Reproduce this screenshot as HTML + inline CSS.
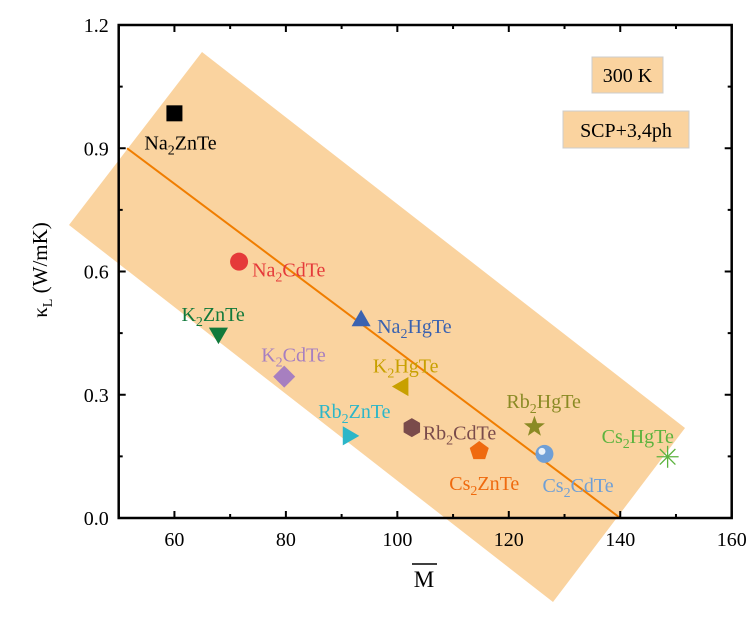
<!DOCTYPE html>
<html><head><meta charset="utf-8"><style>
body{margin:0;background:#fff}
svg, svg text, svg tspan{font-family:"Liberation Serif","Times New Roman","DejaVu Serif","Noto Serif CJK SC",serif !important}
</style></head><body>
<svg width="751" height="612" viewBox="0 0 751 612">
<g id="plot"></g>
</svg>
<script>
const categories=["Na2ZnTe","Na2CdTe","K2ZnTe","K2CdTe","Rb2ZnTe","Na2HgTe","K2HgTe","Rb2CdTe","Cs2ZnTe","Rb2HgTe","Cs2CdTe","Cs2HgTe"];
const massValues=[60,71.6,67.9,79.7,91.2,93.5,101,102.6,114.7,124.6,126.4,148.5];
const kappaValues=[0.985,0.624,0.45,0.344,0.2,0.48,0.32,0.22,0.163,0.222,0.156,0.149];
const xTicks=[60,80,100,120,140,160];
const yTicks=[0.0,0.3,0.6,0.9,1.2];
const fitLine=[[51.5,0.9],[140,0]];
const NS="http://www.w3.org/2000/svg";
const L=118.7,R=731.7,T=25,B=518,X0=50,X1=160,Y0=0,Y1=1.2;
const sx=v=>L+(v-X0)/(X1-X0)*(R-L);
const sy=v=>B-(v-Y0)/(Y1-Y0)*(B-T);
const g=document.getElementById('plot');
function mk(t,a,p){const e=document.createElementNS(NS,t);for(const k in a)e.setAttribute(k,a[k]);(p||g).appendChild(e);return e;}
const band=mk('polygon',{points:"69,225 202,52 685,428 553,602",fill:"#fad39f"});


const fl=mk('line',{x1:sx(fitLine[0][0]),y1:sy(fitLine[0][1]),x2:sx(fitLine[1][0]),y2:sy(fitLine[1][1]),stroke:"#f07d00","stroke-width":2});


const fr=mk('rect',{x:L,y:T,width:R-L,height:B-T,fill:"none",stroke:"#000","stroke-width":2.5});


for(let v=50;v<=160;v+=10){const x=sx(v);const len=(v%20===0)?7:4;
 mk('line',{x1:x,y1:B,x2:x,y2:B-len,stroke:"#000","stroke-width":2});
 mk('line',{x1:x,y1:T,x2:x,y2:T+len,stroke:"#000","stroke-width":2});}
for(let i=0;i<=8;i++){const v=i*0.15;const y=sy(v);const len=(i%2===0)?7:4;
 mk('line',{x1:L,y1:y,x2:L+len,y2:y,stroke:"#000","stroke-width":2});
 mk('line',{x1:R,y1:y,x2:R-len,y2:y,stroke:"#000","stroke-width":2});}
xTicks.forEach(v=>{const t=mk('text',{x:sx(v),y:B+28,"text-anchor":"middle","font-size":20});t.textContent=v;
 
 });
yTicks.forEach(v=>{const t=mk('text',{x:L-10,y:sy(v)+7,"text-anchor":"end","font-size":20});t.textContent=v.toFixed(1);
 
 });
const colors=["#000","#e53a3a","#11793b","#a77fc0","#2cb6c8","#3a62b0","#c8a000","#7a4b4b","#ef6a0e","#8a8a24","#6f9fd6","#5cb33e"];
const shapes=["sq","ci","tdown","dia","tright","tup","tleft","hex","pent","star","sphere","ast"];
const labelOff=[[-30,30],[13,9],[-37,-18],[-23,-21],[-30,-24],[16,6],[-30,-20],[11,6],[-30,33],[-28,-25],[-2,32],[-66,-20]];
function poly(n,r,rot){let p=[];for(let i=0;i<n;i++){const a=rot+i*2*Math.PI/n;p.push((r*Math.cos(a)).toFixed(2)+","+(r*Math.sin(a)).toFixed(2));}return p.join(" ");}
categories.forEach((c,i)=>{
 const x=sx(massValues[i]),y=sy(kappaValues[i]),col=colors[i];
 const grp=mk('g',{transform:`translate(${x},${y})`});
 
 
 const s=shapes[i];
 if(s==="sq")mk('rect',{x:-8,y:-8,width:16,height:16,fill:col},grp);
 else if(s==="ci")mk('circle',{r:9,fill:col},grp);
 else if(s==="tdown")mk('polygon',{points:poly(3,11,Math.PI/2),fill:col},grp);
 else if(s==="tup")mk('polygon',{points:poly(3,11,-Math.PI/2),fill:col},grp);
 else if(s==="tright")mk('polygon',{points:poly(3,11,0),fill:col},grp);
 else if(s==="tleft")mk('polygon',{points:poly(3,11,Math.PI),fill:col},grp);
 else if(s==="dia")mk('polygon',{points:poly(4,11,0),fill:col},grp);
 else if(s==="hex")mk('polygon',{points:poly(6,9.5,Math.PI/2),fill:col},grp);
 else if(s==="pent")mk('polygon',{points:poly(5,10,-Math.PI/2),fill:col},grp);
 else if(s==="star"){let p=[];for(let k=0;k<10;k++){const r=k%2?4.5:11;const a=-Math.PI/2+k*Math.PI/5;p.push((r*Math.cos(a)).toFixed(2)+","+(r*Math.sin(a)).toFixed(2));}mk('polygon',{points:p.join(" "),fill:col},grp);}
 else if(s==="sphere"){mk('circle',{r:9,fill:col},grp);mk('circle',{cx:-2.5,cy:-2.5,r:3.5,fill:"#fff",opacity:0.85},grp);}
 else if(s==="ast"){for(let k=0;k<4;k++){const a=k*Math.PI/4;mk('line',{x1:-11*Math.cos(a),y1:-11*Math.sin(a),x2:11*Math.cos(a),y2:11*Math.sin(a),stroke:col,"stroke-width":1.3},grp);}}
 const m=c.match(/^([A-Z][a-z]?)2(.*)$/);
 const t=mk('text',{x:x+labelOff[i][0],y:y+labelOff[i][1]+6,"font-size":20,fill:col});
 
 
 const a=mk('tspan',{},t);a.textContent=m[1];
 const b=mk('tspan',{dy:5,"font-size":14},t);b.textContent="2";
 const d=mk('tspan',{dy:-5},t);d.textContent=m[2];
});
</script>
<svg width="751" height="612" style="position:absolute;left:0;top:0">
<rect x="592" y="57" width="71" height="36" fill="#fad39f" stroke="#ccc"/>
<text x="627.5" y="82" text-anchor="middle" font-size="20">300 K</text>
<rect x="563" y="111" width="126" height="37" fill="#fad39f" stroke="#ccc"/>
<text x="626" y="137" text-anchor="middle" font-size="20">SCP+3,4ph</text>
<text x="424" y="587" text-anchor="middle" font-size="23">M</text>
<line x1="412" y1="564" x2="437" y2="564" stroke="#000" stroke-width="1.5"/>
<text transform="translate(47,270) rotate(-90)" text-anchor="middle" font-size="21">κ<tspan dy="5" font-size="14">L</tspan><tspan dy="-5"> (W/mK)</tspan></text>
</svg>
</body></html>
